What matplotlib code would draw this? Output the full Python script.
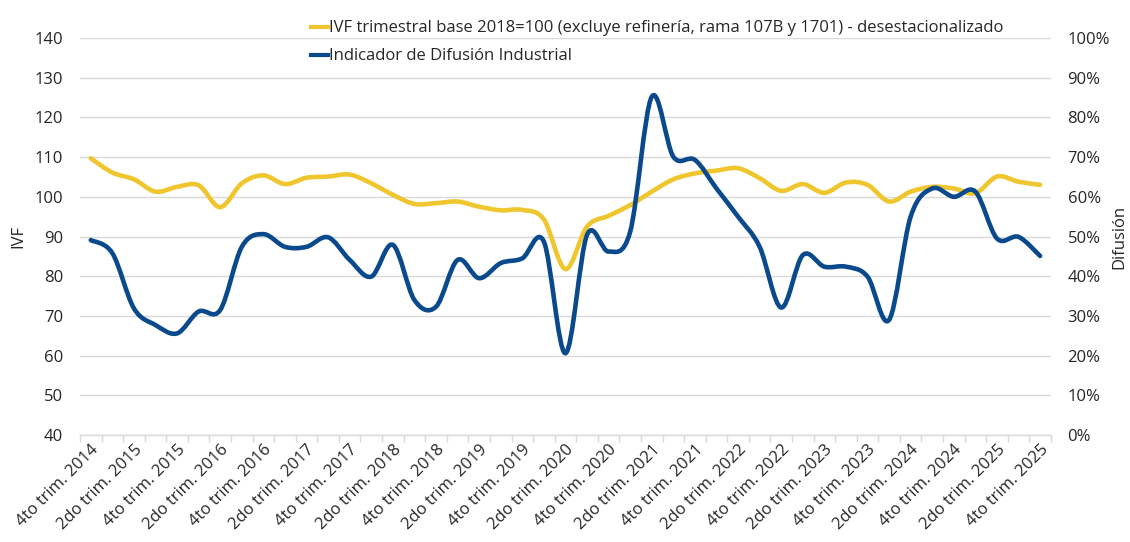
import matplotlib
matplotlib.use("Agg")
import matplotlib.pyplot as plt
import matplotlib.transforms as mtransforms
from matplotlib.path import Path
from matplotlib.patches import PathPatch
from matplotlib.lines import Line2D
from matplotlib.ticker import FixedLocator, PercentFormatter

plt.rcParams['font.family'] = ['Open Sans', 'DejaVu Sans']

# ---- data ----
ivf = [109.7, 106.1, 104.4, 101.3, 102.5, 102.9, 97.4, 103.4, 105.4, 103.2,
       104.8, 105.1, 105.6, 103.4, 100.5, 98.2, 98.4, 98.8, 97.5, 96.6,
       96.7, 94.3, 81.8, 92.5, 95.2, 97.9, 101.3, 104.4, 105.9, 106.6,
       107.2, 104.7, 101.5, 103.2, 101.0, 103.6, 103.0, 98.8, 101.3, 102.5,
       102.1, 100.9, 105.1, 103.8, 103.0]
difusion = [49.1, 45.8, 31.9, 27.7, 25.6, 31.1, 31.5, 47.4, 50.6, 47.4,
            47.4, 49.8, 44.1, 39.9, 47.9, 34.0, 32.3, 44.1, 39.5, 43.3,
            44.5, 48.7, 20.6, 50.4, 46.2, 51.2, 85.2, 70.1, 69.3, 62.1,
            55.0, 47.4, 32.1, 45.3, 42.4, 42.4, 39.9, 29.0, 55.0, 62.1,
            60.0, 61.3, 49.5, 49.9, 45.1]
tick_labels = ["4to trim. 2014", "2do trim. 2015", "4to trim. 2015", "2do trim. 2016",
               "4to trim. 2016", "2do trim. 2017", "4to trim. 2017", "2do trim. 2018",
               "4to trim. 2018", "2do trim. 2019", "4to trim. 2019", "2do trim. 2020",
               "4to trim. 2020", "2do trim. 2021", "4to trim. 2021", "2do trim. 2022",
               "4to trim. 2022", "2do trim. 2023", "4to trim. 2023", "2do trim. 2024",
               "4to trim. 2024", "2do trim. 2025", "4to trim. 2025"]
label_ivf = "IVF trimestral base 2018=100 (excluye refinería, rama 107B y 1701) - desestacionalizado"
label_dif = "Indicador de Difusión Industrial"

YELLOW = "#F0C62E"
BLUE = "#0A4A8C"
GRID = "#D9D9D9"
TXT = "#262626"


def smooth_path(xs, ys):
    """Catmull-Rom style Bezier path through the data points (Excel 'smoothed line')."""
    n = len(xs)
    verts = [(xs[0], ys[0])]
    codes = [Path.MOVETO]
    for i in range(n - 1):
        i0 = max(i - 1, 0)
        i3 = min(i + 2, n - 1)
        c1 = (xs[i] + (xs[i + 1] - xs[i0]) / 6.0, ys[i] + (ys[i + 1] - ys[i0]) / 6.0)
        c2 = (xs[i + 1] - (xs[i3] - xs[i]) / 6.0, ys[i + 1] - (ys[i3] - ys[i]) / 6.0)
        verts += [c1, c2, (xs[i + 1], ys[i + 1])]
        codes += [Path.CURVE4] * 3
    return Path(verts, codes)


fig = plt.figure(figsize=(11.3, 5.42), dpi=100)
ax = fig.add_axes([0.0708, 0.1974, 0.8592, 0.7325])
ax2 = ax.twinx()

x = list(range(len(ivf)))
lw = 3.3
ax.add_patch(PathPatch(smooth_path(x, ivf), fill=False, edgecolor=YELLOW, lw=lw,
                       capstyle='round', joinstyle='round', zorder=3))
ax2.add_patch(PathPatch(smooth_path(x, difusion), fill=False, edgecolor=BLUE, lw=lw,
                        capstyle='round', joinstyle='round', zorder=3))

ax.set_xlim(-0.5, len(ivf) - 0.5)
ax.set_ylim(40, 140)
ax2.set_ylim(0, 100)
ax.set_yticks(range(40, 141, 10))
ax2.set_yticks(range(0, 101, 10))
ax2.yaxis.set_major_formatter(PercentFormatter(decimals=0))

ax.grid(axis='y', color=GRID, lw=1.0)
ax.set_axisbelow(True)

for a in (ax, ax2):
    for s in a.spines.values():
        s.set_visible(False)
ax.spines['bottom'].set_visible(True)
ax.spines['bottom'].set_color(GRID)
ax.spines['bottom'].set_linewidth(1.0)

ax.set_xticks(range(0, len(ivf), 2))
ax.set_xticklabels(tick_labels, rotation=45, ha='right', rotation_mode='anchor',
                   fontsize=12, color=TXT)
offset = mtransforms.ScaledTranslation(-4 / 100, 0, fig.dpi_scale_trans)
for lbl in ax.get_xticklabels():
    lbl.set_transform(lbl.get_transform() + offset)
ax.xaxis.set_minor_locator(FixedLocator([i - 0.5 for i in range(len(ivf) + 1)]))
ax.tick_params(axis='x', which='major', length=0, pad=5)
ax.tick_params(axis='x', which='minor', length=5, color=GRID, width=1)
ax.tick_params(axis='y', length=0, labelsize=12, labelcolor=TXT, pad=12)
ax2.tick_params(axis='y', length=0, labelsize=12, labelcolor=TXT, pad=12)

ax.set_ylabel("IVF", fontsize=12, color=TXT, labelpad=6)
ax2.set_ylabel("Difusión", fontsize=12, color=TXT, labelpad=1)

handles = [Line2D([], [], color=YELLOW, lw=3), Line2D([], [], color=BLUE, lw=3)]
fig.legend(handles, [label_ivf, label_dif], loc='upper left',
           bbox_to_anchor=(0.262, 0.99), frameon=False, fontsize=12,
           handlelength=1.0, handletextpad=0.1, labelspacing=0.72, labelcolor=TXT)

fig.savefig("out.png", dpi=100)
